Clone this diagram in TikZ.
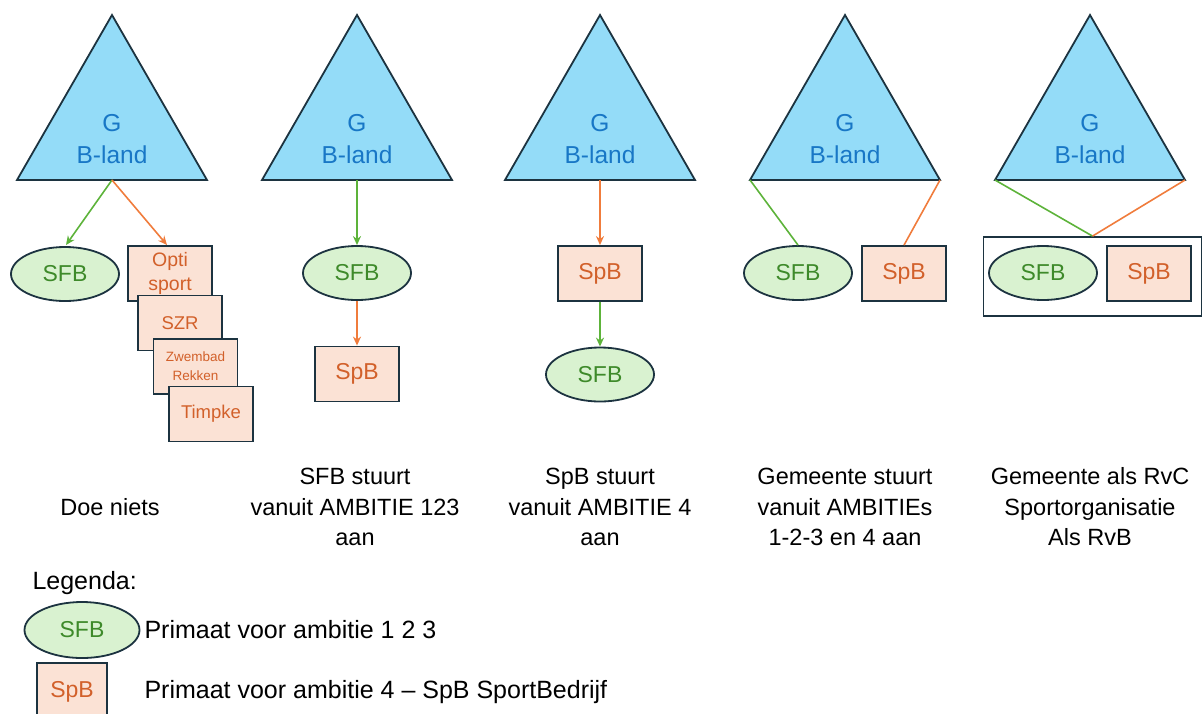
\documentclass[tikz,border=0pt]{standalone}
\usepackage{fontspec}
\setmainfont{Liberation Sans}
\usetikzlibrary{shapes.geometric,arrows.meta}
\definecolor{triFill}{HTML}{94DCF8}
\definecolor{triText}{HTML}{1877C6}
\definecolor{outl}{HTML}{1C3340}
\definecolor{ellFill}{HTML}{D9F2D0}
\definecolor{grText}{HTML}{3E8A2A}
\definecolor{grLine}{HTML}{5DB33A}
\definecolor{boxFill}{HTML}{FBE2D5}
\definecolor{orText}{HTML}{D2602A}
\definecolor{orLine}{HTML}{F07C3C}
\begin{document}
\begin{tikzpicture}[x=1pt,y=-1pt,
  every node/.style={font=\fontsize{23}{27}\selectfont},
  tri/.style={draw=outl,fill=triFill,line width=1.8pt,line join=miter},
  tritext/.style={text=triText,align=center,font=\fontsize{24.5}{32}\selectfont},
  sfb/.style={ellipse,draw=outl,fill=ellFill,line width=1.8pt,text=grText,minimum width=108pt,minimum height=54pt,inner sep=0pt},
  spb/.style={rectangle,draw=outl,fill=boxFill,line width=1.8pt,text=orText,minimum width=84pt,minimum height=55pt,inner sep=0pt,align=center},
  gArrow/.style={draw=grLine,line width=1.6pt,-{Stealth[length=9pt,width=8pt]}},
  oArrow/.style={draw=orLine,line width=1.6pt,-{Stealth[length=9pt,width=8pt]}},
  gLine/.style={draw=grLine,line width=1.6pt},
  oLine/.style={draw=orLine,line width=1.6pt},
  caption/.style={align=center,font=\fontsize{23.5}{30.5}\selectfont},
  legtext/.style={anchor=west,font=\fontsize{25}{28}\selectfont}
]
\useasboundingbox (0,0) rectangle (1202,713);
\clip (0,0) rectangle (1202,713);

% triangles
\foreach \i/\cx in {1/112,2/357,3/600,4/845,5/1090}{
  \draw[tri] (\cx,15) -- (\cx+95,180) -- (\cx-95,180) -- cycle;
  \coordinate (t\i b) at (\cx,180);
  \coordinate (t\i l) at (\cx-95,180);
  \coordinate (t\i r) at (\cx+95,180);
  \node[tritext] (t\i txt) at (\cx,139) {G\\B-land};
}

% panel 1
\node[sfb] (p1sfb) at (65,274) {SFB};
\node[spb,font=\fontsize{19.5}{23.5}\selectfont] (p1opti) at (170,273.5) {Opti\\sport};
\node[spb,font=\fontsize{18.5}{23}\selectfont] (p1szr) at (180,323) {SZR};
\node[spb,font=\fontsize{13.5}{19}\selectfont] (p1zw) at (195.5,366.5) {Zwembad\\Rekken};
\node[spb,font=\fontsize{18.5}{23}\selectfont] (p1tim) at (211,414) {Timpke};
\draw[gArrow] (t1b) -- (66,245);
\draw[oArrow] (t1b) -- (167,245);

% panel 2
\node[sfb] (p2sfb) at (357,273) {SFB};
\node[spb] (p2spb) at (357,374) {SpB};
\draw[gArrow] (t2b) -- (p2sfb.north);
\draw[oArrow] (p2sfb.south) -- (p2spb.north);

% panel 3
\node[spb] (p3spb) at (600,273.5) {SpB};
\node[sfb] (p3sfb) at (600,374.5) {SFB};
\draw[oArrow] (t3b) -- (p3spb.north);
\draw[gArrow] (p3spb.south) -- (p3sfb.north);

% panel 4
\node[sfb] (p4sfb) at (798,273) {SFB};
\node[spb] (p4spb) at (904,273.5) {SpB};
\draw[gLine] (t4l) -- (p4sfb.north);
\draw[oLine] (t4r) -- (p4spb.north);

% panel 5
\node[draw=outl,line width=1.8pt,minimum width=218pt,minimum height=79pt,inner sep=0pt] (p5box) at (1092.5,276.5) {};
\node[sfb] (p5sfb) at (1043,273) {SFB};
\node[spb] (p5spb) at (1149,273.5) {SpB};
\draw[gLine] (t5l) -- (p5box.north);
\draw[oLine] (t5r) -- (p5box.north);

% captions
\node[caption] (c1) at (110,507) {Doe niets};
\node[caption] (c2) at (355,507) {SFB stuurt\\vanuit AMBITIE 123\\aan};
\node[caption] (c3) at (600,507) {SpB stuurt\\vanuit AMBITIE 4\\aan};
\node[caption] (c4) at (845,507) {Gemeente stuurt\\vanuit AMBITIEs\\1-2-3 en 4 aan};
\node[caption] (c5) at (1090,507) {Gemeente als RvC\\Sportorganisatie\\Als RvB};

% legend
\node[legtext] (leg) at (29,583) {Legenda:};
\node[sfb,minimum width=115pt,minimum height=56pt] (lsfb) at (82,630) {SFB};
\node[legtext] (lsfbt) at (141,630) {Primaat voor ambitie 1 2 3};
\node[spb,minimum width=70pt,minimum height=58pt] (lspb) at (72,692) {SpB};
\node[legtext] (lspbt) at (141,692) {Primaat voor ambitie 4 -- SpB SportBedrijf};
\end{tikzpicture}
\end{document}
